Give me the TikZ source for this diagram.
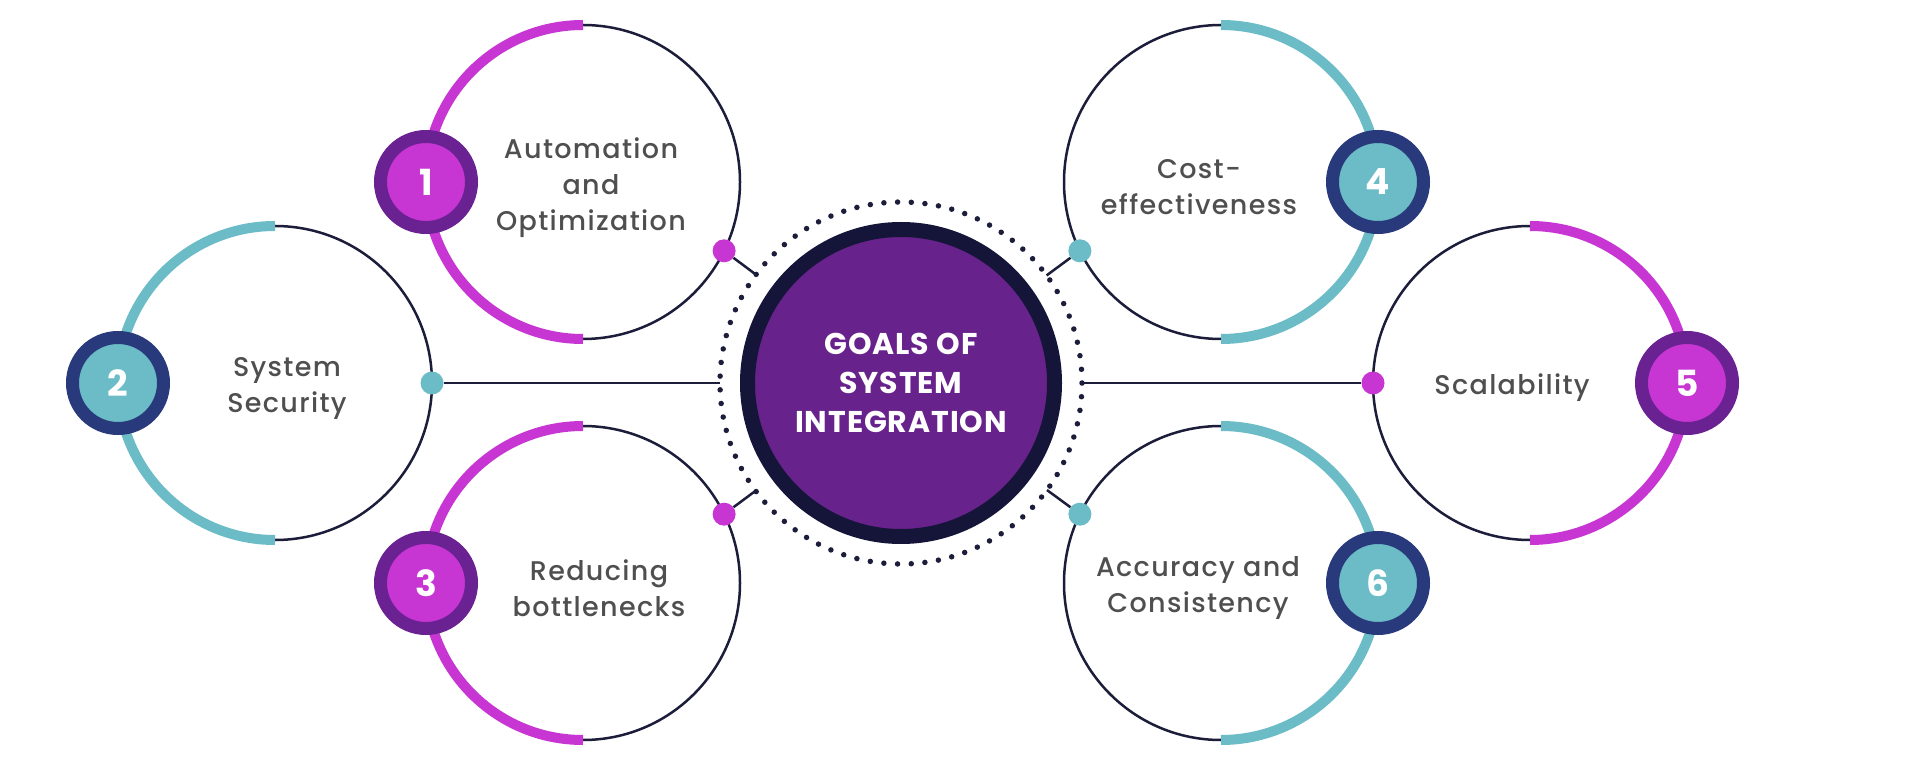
\documentclass[tikz,border=0pt]{standalone}
\usepackage{fontspec}
\setmainfont{Poppins}
\newfontfamily\lblfont{Poppins Medium}[LetterSpace=5.0]
\newfontfamily\ctrfont{Poppins}[LetterSpace=3.0]
\usetikzlibrary{calc}
\definecolor{mag}{HTML}{C736D2}
\definecolor{magdark}{HTML}{6A2192}
\definecolor{teal}{HTML}{6BBCC6}
\definecolor{navy}{HTML}{283A7C}
\definecolor{linec}{HTML}{1C1D3A}
\definecolor{ctrfill}{HTML}{68228B}
\definecolor{ctrring}{HTML}{15153A}
\definecolor{txt}{HTML}{4F4F4F}
\begin{document}
\begin{tikzpicture}[x=1pt,y=1pt,
  ringc/.style={circle, draw=linec, line width=2.5pt, minimum size=314pt, inner sep=0pt},
  arcm/.style={mag, line width=10pt},
  arct/.style={teal, line width=10pt},
  badgebase/.style={circle, inner sep=0pt, minimum size=91pt, line width=13pt, text=white,
     font=\fontsize{36}{36}\selectfont\bfseries},
  badgem/.style={badgebase, draw=magdark, fill=mag},
  badget/.style={badgebase, draw=navy, fill=teal},
  dotm/.style={circle, fill=mag, minimum size=23pt, inner sep=0pt},
  dott/.style={circle, fill=teal, minimum size=23pt, inner sep=0pt},
  conn/.style={linec, line width=2.5pt},
  lbl/.style={align=center, text=txt, font=\lblfont\fontsize{27}{36}\selectfont},
  ctr/.style={circle, fill=ctrfill, draw=ctrring, line width=15pt, minimum size=307pt,
     inner sep=0pt, align=center, text=white, font=\ctrfont\fontsize{30}{39}\selectfont\bfseries}
]
\useasboundingbox (0,0) rectangle (1925,780);
\fill[white] (0,0) rectangle (1925,780);

% central node and dotted ring
\node[ctr] (main) at (901,397) {GOALS OF\\SYSTEM\\INTEGRATION};
\draw[linec, line width=5.5pt, line cap=round, dash pattern=on 0pt off 13.703pt]
  (main.center) circle[radius=181];

% goal circles
\node[ringc] (c1) at (583,598) {};
\node[ringc] (c2) at (275,397) {};
\node[ringc] (c3) at (583,197) {};
\node[ringc] (c4) at (1221,598) {};
\node[ringc] (c5) at (1530,397) {};
\node[ringc] (c6) at (1221,197) {};

% coloured half arcs
\draw[arcm] ($(c1)+(0,157)$) arc[start angle=90, end angle=270, radius=157];
\draw[arct] ($(c2)+(0,157)$) arc[start angle=90, end angle=270, radius=157];
\draw[arcm] ($(c3)+(0,157)$) arc[start angle=90, end angle=270, radius=157];
\draw[arct] ($(c4)+(0,-157)$) arc[start angle=-90, end angle=90, radius=157];
\draw[arcm] ($(c5)+(0,-157)$) arc[start angle=-90, end angle=90, radius=157];
\draw[arct] ($(c6)+(0,-157)$) arc[start angle=-90, end angle=90, radius=157];

% connector dots
\node[dotm] (d1) at ($(c1)+(-26:157)$) {};
\node[dott] (d2) at ($(c2)+(0:157)$) {};
\node[dotm] (d3) at ($(c3)+(26:157)$) {};
\node[dott] (d4) at ($(c4)+(206:157)$) {};
\node[dotm] (d5) at ($(c5)+(180:157)$) {};
\node[dott] (d6) at ($(c6)+(154:157)$) {};

% connector ends on the dotted ring
\foreach \i in {1,...,6} {
  \coordinate (e\i) at ($(main.center)!181pt!(d\i.center)$);
}
\foreach \i in {1,...,6} {
  \draw[conn] (d\i) -- (e\i);
}

% number badges
\node[badgem] (b1) at ($(c1)+(-157,0)$) {1};
\node[badget] (b2) at ($(c2)+(-157,0)$) {2};
\node[badgem] (b3) at ($(c3)+(-157,0)$) {3};
\node[badget] (b4) at ($(c4)+(157,0)$) {4};
\node[badgem] (b5) at ($(c5)+(157,0)$) {5};
\node[badget] (b6) at ($(c6)+(157,0)$) {6};

% labels
\node[lbl] (t1) at (591,592) {Automation\\and\\Optimization};
\node[lbl] (t2) at (287,392) {System\\Security};
\node[lbl] (t3) at (599,192) {Reducing\\bottlenecks};
\node[lbl] (t4) at (1199,593) {Cost-\\effectiveness};
\node[lbl] (t5) at (1512,392) {Scalability};
\node[lbl] (t6) at (1198,192) {Accuracy and\\Consistency};
\end{tikzpicture}
\end{document}
